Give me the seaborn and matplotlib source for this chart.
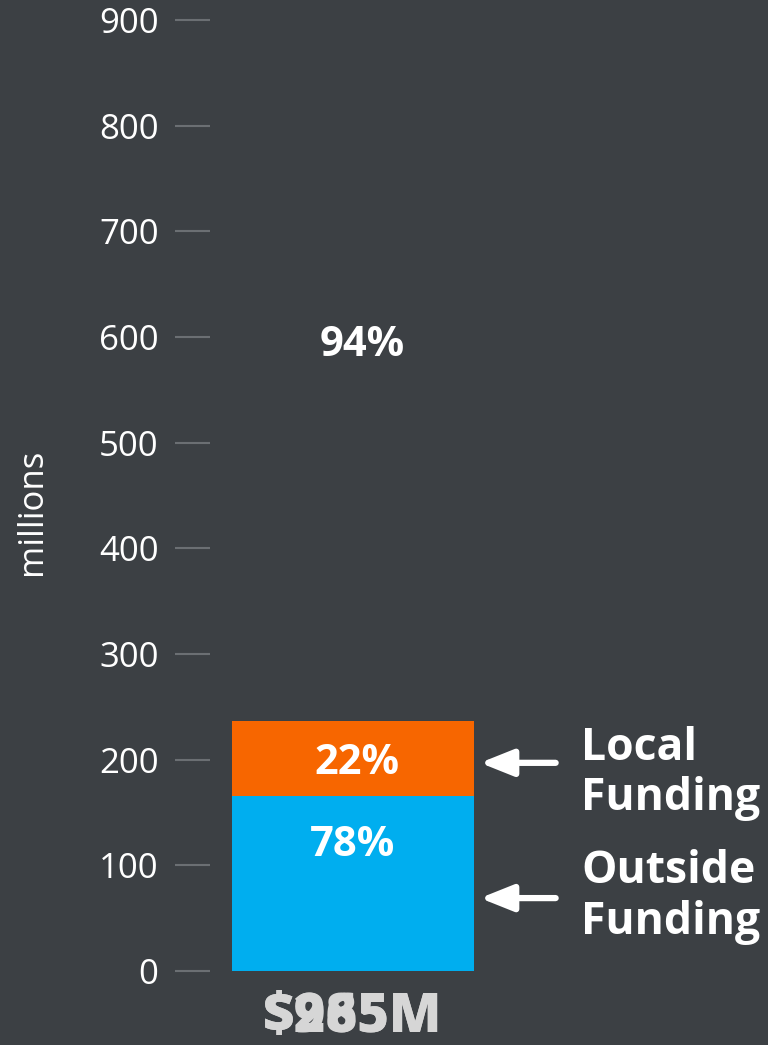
import matplotlib
matplotlib.use("Agg")
import matplotlib.pyplot as plt
import seaborn as sns
import pandas as pd

# data
categories = ["Total"]
local_funding = [71]      # millions, top segment
outside_funding = [166]   # millions, bottom segment
seg_labels = ["22%", "78%"]
ghost_label = "94%"
totals = ["$985M", "$265M"]
yticks = [0, 100, 200, 300, 400, 500, 600, 700, 800, 900]

bg = "#3c4044"
orange = "#f76600"
blue = "#00aeef"

sns.set_style("dark", {"axes.facecolor": bg, "figure.facecolor": bg})
plt.rcParams['font.family'] = ['Open Sans', 'DejaVu Sans']

df = pd.DataFrame({"cat": categories,
                   "total": [l + o for l, o in zip(local_funding, outside_funding)],
                   "outside": outside_funding})

fig = plt.figure(figsize=(7.68, 10.45), dpi=100)
ax = fig.add_axes([210 / 768, 74 / 1045, 558 / 768, 951 / 1045])

sns.barplot(data=df, x="cat", y="total", color=orange, saturation=1, width=0.8,
            linewidth=0, ax=ax)
sns.barplot(data=df, x="cat", y="outside", color=blue, saturation=1, width=0.8,
            linewidth=0, ax=ax)

ax.set_xlim(-0.4727, 1.372)
ax.set_ylim(0, 900)
ax.set_yticks(yticks)
ax.set_yticklabels([str(t) for t in yticks], color="white", fontsize=25)
ax.tick_params(axis="y", length=25, width=1.5, color="#6b6f73", pad=12, left=True)
ax.set_xticks([])
ax.set_xlabel("")
ax.set_ylabel("")
for s in ax.spines.values():
    s.set_visible(False)

fig.text(32 / 768, 1 - 512 / 1045, "millions", rotation=90, color="white",
         fontsize=25, ha="center", va="center")

# percentages
ax.text(0.013, 196, seg_labels[0], color="white", fontsize=30, fontweight="bold", ha="center", va="center")
ax.text(-0.003, 119, seg_labels[1], color="white", fontsize=30, fontweight="bold", ha="center", va="center")
ax.text(0.03, 592, ghost_label, color="white", fontsize=30, fontweight="bold", ha="center", va="center")

# totals (overlapping)
for t in totals:
    ax.text(-0.003, -44, t, color="#d6d6d6", fontsize=39, fontweight=800,
            ha="center", va="center", clip_on=False)

# arrows + labels
for y_arrow, y_text, label in [(197, 187, "Local\nFunding"), (69, 70, "Outside\nFunding")]:
    ax.annotate("", xy=(0.42, y_arrow), xytext=(0.67, y_arrow),
                arrowprops=dict(arrowstyle="-|>,head_length=2.0,head_width=0.8",
                                color="white", lw=4.5, shrinkA=0, shrinkB=0))
    ax.text(0.755, y_text, label, color="white", fontsize=32, fontweight="bold",
            ha="left", va="center", linespacing=1.15)

fig.savefig("out.png", dpi=100, facecolor=bg)
